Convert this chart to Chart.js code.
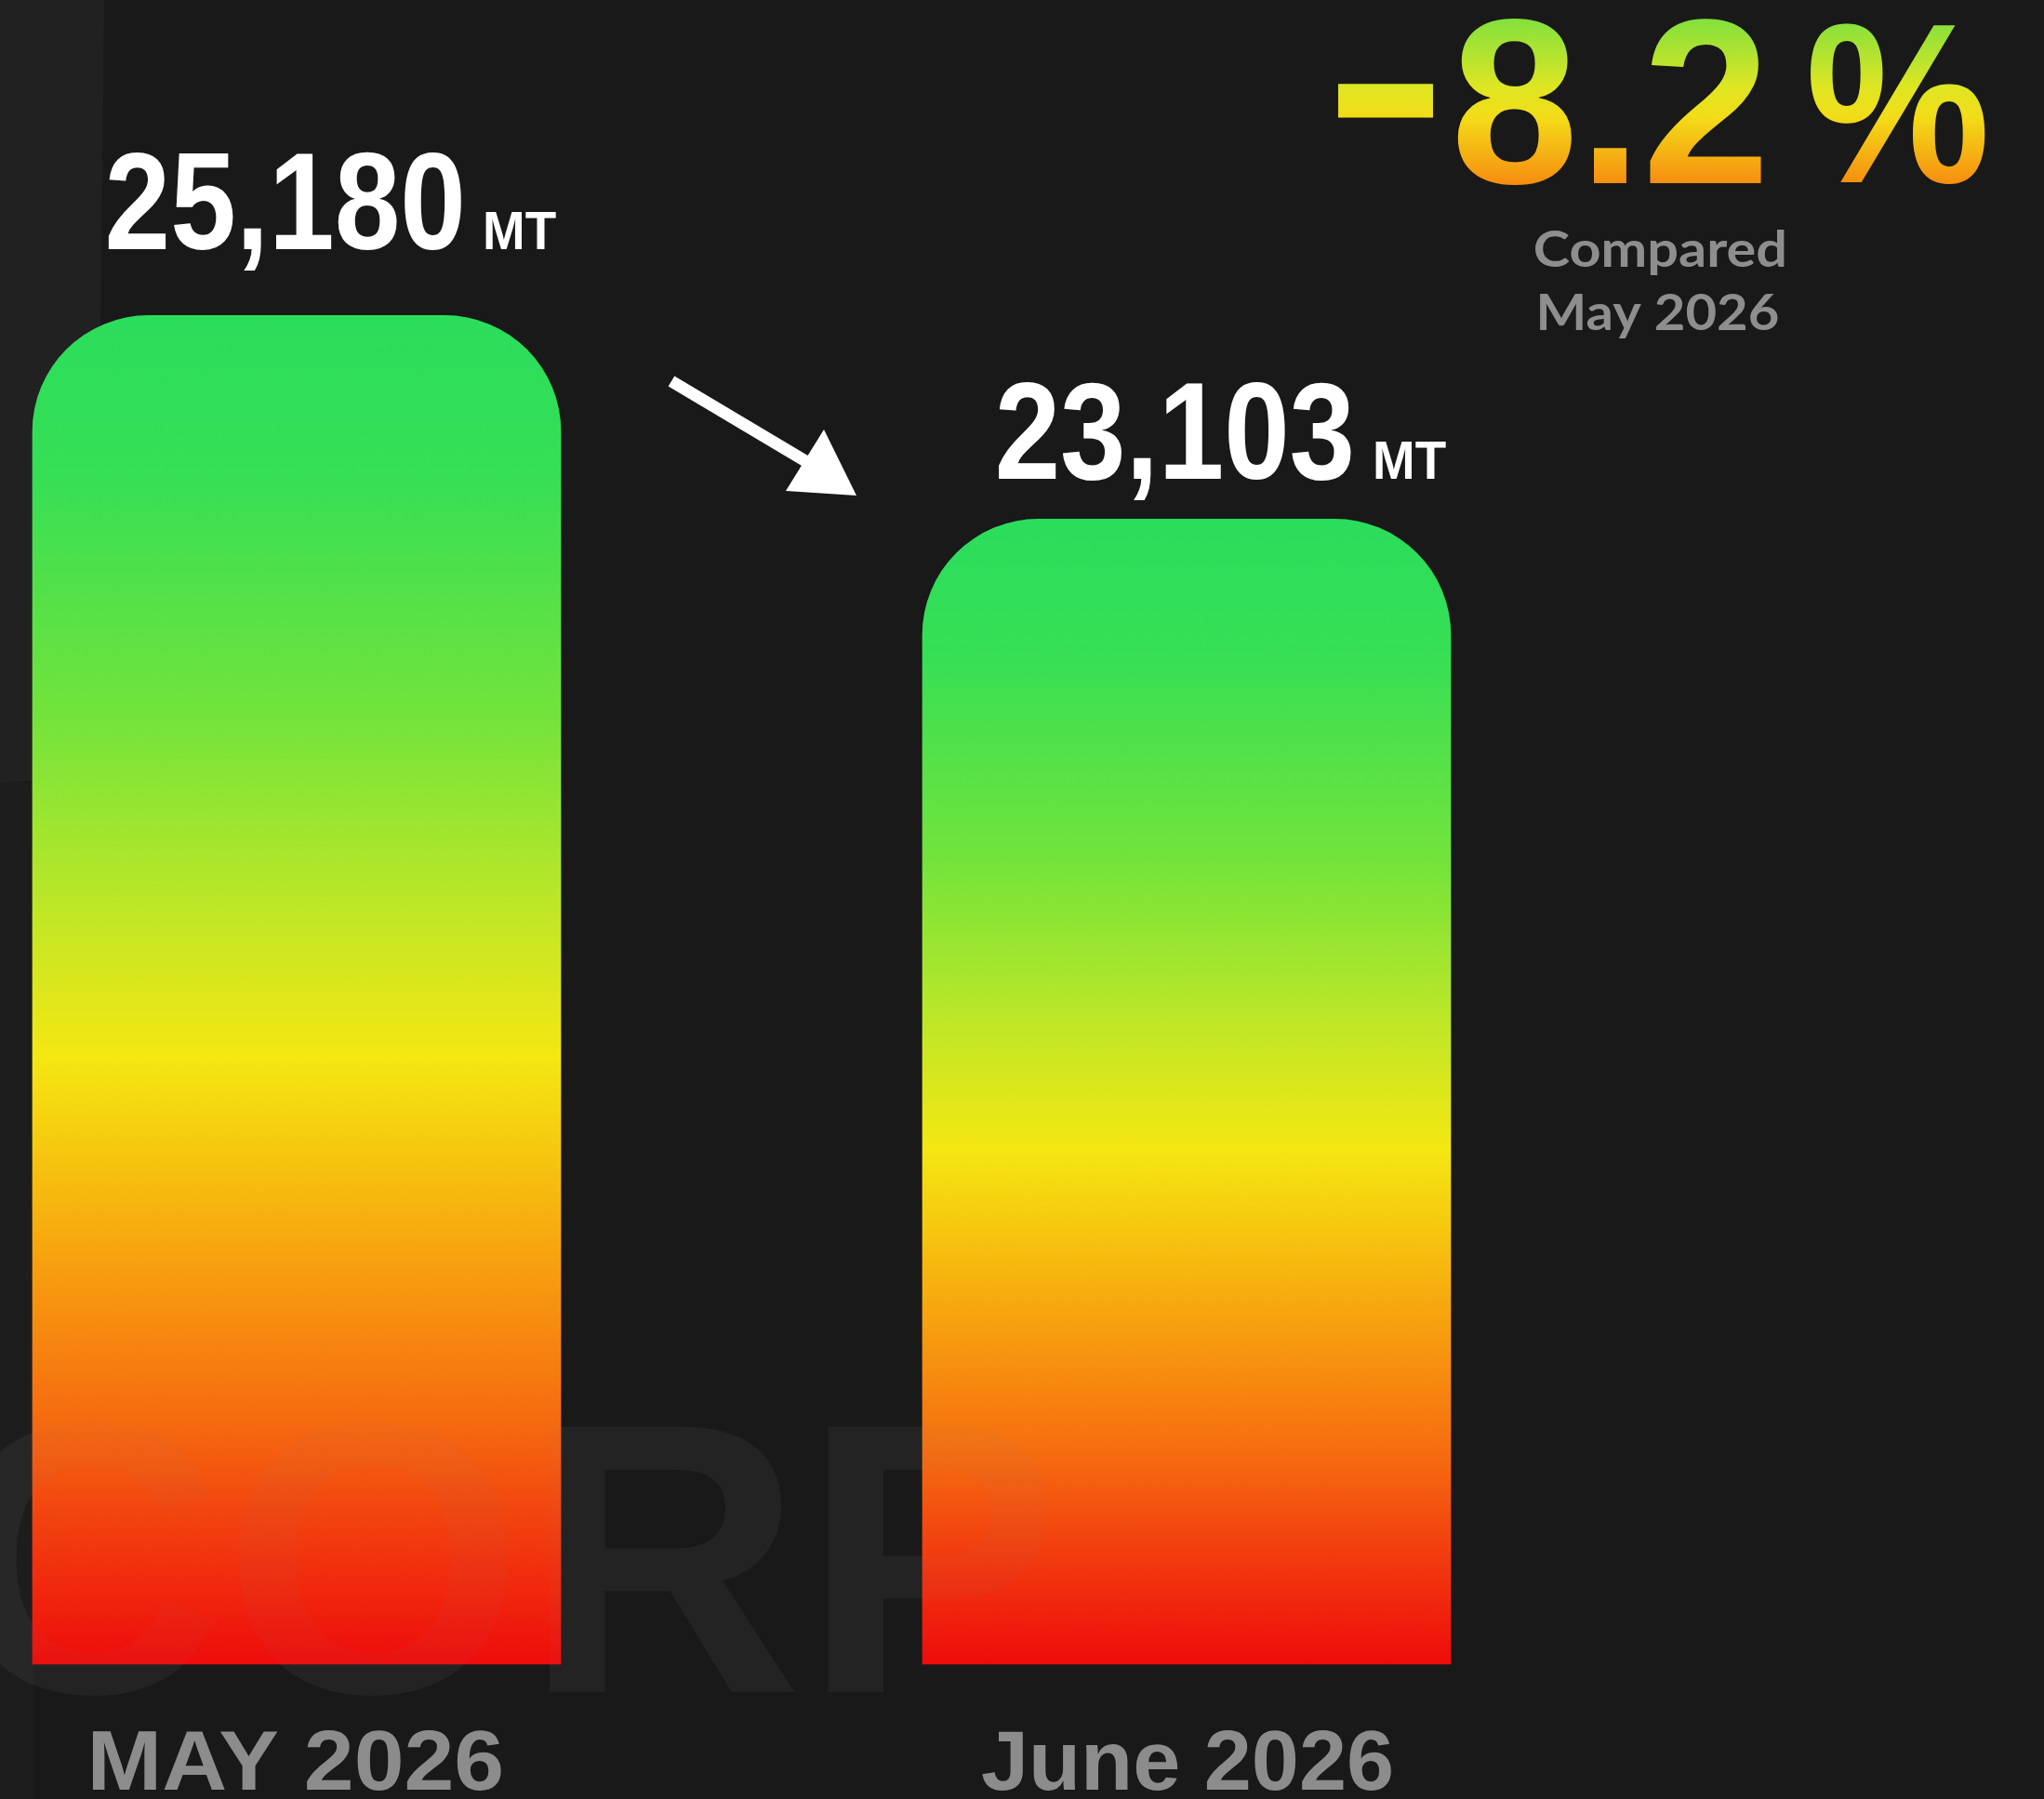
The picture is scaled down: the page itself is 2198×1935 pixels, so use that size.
<!DOCTYPE html>
<html>
<head>
<meta charset="utf-8">
<script src="https://cdn.jsdelivr.net/npm/chart.js@4.4.1/dist/chart.umd.min.js"></script>
<style>
html,body{margin:0;padding:0;background:#191919;overflow:hidden}
canvas{display:block}
</style>
</head>
<body>
<canvas id="c" width="2198" height="1935" style="width:2198px;height:1935px"></canvas>
<script>
// ---- data ----
const categories = ['MAY 2026', 'June 2026'];
const volumes = [25180, 23103];
const unit = 'MT';
const compareLines = ['Compared', 'May 2026'];
const yRange = [11420, 28400];
const watermark = 'CORP';

// ---- style ----
const FONT = '"Liberation Sans", Arial, sans-serif';
const BG = '#191919';
const barStops = [[0,'#2bdd5c'],[0.12,'#36df55'],[0.3,'#74e33b'],[0.45,'#c4e725'],[0.55,'#f4e712'],[0.62,'#f6c70f'],[0.72,'#f7980f'],[0.82,'#f56a10'],[0.9,'#f23e0f'],[1,'#ee0c0c']];
const pctStops = [[0,'#82e03e'],[0.42,'#dfe622'],[0.6,'#f3dc18'],[1,'#f68e10']];
const labelGap = [71, 43];

function barFill(context) {
  const chart = context.chart;
  if (!chart.chartArea || context.raw == null) return barStops[0][1];
  const ys = chart.scales.y;
  const top = ys.getPixelForValue(context.raw);
  const bottom = ys.getPixelForValue(ys.min);
  const g = chart.ctx.createLinearGradient(0, top, 0, bottom);
  barStops.forEach(s => g.addColorStop(s[0], s[1]));
  return g;
}

// draw text so that its ink fits the given box
function drawInk(ctx, text, font, box, fill) {
  ctx.save();
  ctx.font = font;
  ctx.textAlign = 'left';
  ctx.textBaseline = 'alphabetic';
  const m = ctx.measureText(text);
  const inkW = m.actualBoundingBoxLeft + m.actualBoundingBoxRight;
  const sx = (box.x1 - box.x0) / inkW;
  let sy, oy;
  if (box.bottom != null) {
    const inkH = m.actualBoundingBoxAscent + m.actualBoundingBoxDescent;
    sy = (box.bottom - box.top) / inkH;
    oy = box.top + m.actualBoundingBoxAscent * sy;
  } else {
    sy = (box.base - box.top) / m.actualBoundingBoxAscent;
    oy = box.base;
  }
  ctx.translate(box.x0 + m.actualBoundingBoxLeft * sx, oy);
  ctx.scale(sx, sy);
  if (fill && fill.stops) {
    const g = ctx.createLinearGradient(0, (fill.y0 - oy) / sy, 0, (fill.y1 - oy) / sy);
    fill.stops.forEach(s => g.addColorStop(s[0], s[1]));
    ctx.fillStyle = g;
  } else {
    ctx.fillStyle = fill;
  }
  ctx.fillText(text, 0, 0);
  ctx.restore();
}

function drawWatermark(ctx, color) {
  ctx.save();
  ctx.font = 'bold 415px ' + FONT;
  ctx.textBaseline = 'alphabetic';
  ctx.textAlign = 'left';
  ctx.fillStyle = color;
  const coW = ctx.measureText(watermark.slice(0, 2)).width;
  ctx.fillText(watermark, 563 - coW, 1820);
  ctx.restore();
}

const decorations = {
  id: 'decorations',
  beforeDraw(chart) {
    const ctx = chart.ctx;
    ctx.save();
    ctx.fillStyle = BG;
    ctx.fillRect(0, 0, chart.width, chart.height);
    // faint logo band on the left
    ctx.fillStyle = 'rgba(255,255,255,0.035)';
    ctx.beginPath();
    ctx.moveTo(0, 0);
    ctx.lineTo(112, 0);
    ctx.lineTo(104, 760);
    ctx.quadraticCurveTo(100, 830, 40, 840);
    ctx.lineTo(0, 842);
    ctx.closePath();
    ctx.fill();
    ctx.fillStyle = 'rgba(255,255,255,0.018)';
    ctx.fillRect(0, 842, 36, chart.height - 842);
    ctx.restore();
  },
  beforeDatasetsDraw(chart) {
    drawWatermark(chart.ctx, 'rgba(255,255,255,0.028)');
  },
  afterDatasetsDraw(chart) {
    const ctx = chart.ctx;
    drawWatermark(ctx, 'rgba(128,128,128,0.045)');

    // value labels
    const meta = chart.getDatasetMeta(0);
    meta.data.forEach((el, i) => {
      const right = el.x + el.width / 2;
      const base = el.y - labelGap[i];
      drawInk(ctx, unit, 'bold 56px ' + FONT, {x0: right - 81, x1: right - 5, top: base - 39, base: base}, '#ffffff');
      const txt = volumes[i].toLocaleString('en-US');
      drawInk(ctx, txt, 'bold 145px ' + FONT, {x0: right - 107 - 379, x1: right - 107, top: base - 104, base: base}, '#ffffff');
    });

    // category labels under the bars, from the x scale
    const xs = chart.scales.x;
    const bottom = chart.chartArea.bottom;
    categories.forEach((c, i) => {
      const cx = xs.getPixelForValue(i);
      drawInk(ctx, c, 'bold 88px ' + FONT, {x0: cx - 220, x1: cx + 220, top: bottom + 72, base: bottom + 135}, '#8c8c8c');
    });
  },
  afterDraw(chart) {
    const ctx = chart.ctx;
    // arrow
    ctx.save();
    ctx.fillStyle = '#ffffff';
    ctx.strokeStyle = '#ffffff';
    ctx.lineWidth = 13;
    ctx.lineCap = 'butt';
    ctx.beginPath();
    ctx.moveTo(722, 410);
    ctx.lineTo(868, 497);
    ctx.stroke();
    ctx.beginPath();
    ctx.moveTo(886, 462);
    ctx.lineTo(845, 528);
    ctx.lineTo(921, 533);
    ctx.closePath();
    ctx.fill();
    ctx.restore();

    // percentage change
    const pct = (volumes[1] - volumes[0]) / volumes[0] * 100;
    const mag = Math.abs(pct).toFixed(1);
    const fill = {y0: 20, y1: 197, stops: pctStops};
    const big = 'bold 247px ' + FONT;
    drawInk(ctx, pct < 0 ? '-' : '+', big, {x0: 1438, x1: 1542, top: 90, bottom: 127}, fill);
    drawInk(ctx, mag, big, {x0: 1567, x1: 1894, top: 20, base: 197}, fill);
    drawInk(ctx, '%', big, {x0: 1947, x1: 2135, top: 25, base: 196}, fill);

    const small = '700 52px Lato, "Open Sans", sans-serif';
    drawInk(ctx, compareLines[0], small, {x0: 1651, x1: 1919, top: 248, base: 287}, '#8e8e8e');
    drawInk(ctx, compareLines[1], small, {x0: 1656, x1: 1912, top: 317, base: 355}, '#8e8e8e');
  }
};

new Chart(document.getElementById('c'), {
  type: 'bar',
  data: {
    labels: categories,
    datasets: [{
      data: volumes,
      base: yRange[0],
      backgroundColor: barFill,
      borderWidth: 0,
      borderRadius: 125,
      borderSkipped: 'start',
      barThickness: 568,
      clip: false
    }]
  },
  options: {
    responsive: false,
    devicePixelRatio: 1,
    animation: false,
    layout: { padding: { left: 319, right: 922, top: 0, bottom: 145 } },
    plugins: { legend: { display: false }, tooltip: { enabled: false } },
    scales: {
      x: {
        offset: false,
        grid: { display: false, drawTicks: false },
        border: { display: false },
        ticks: { display: false }
      },
      y: { display: false, min: yRange[0], max: yRange[1] }
    }
  },
  plugins: [decorations]
});
</script>
</body>
</html>
